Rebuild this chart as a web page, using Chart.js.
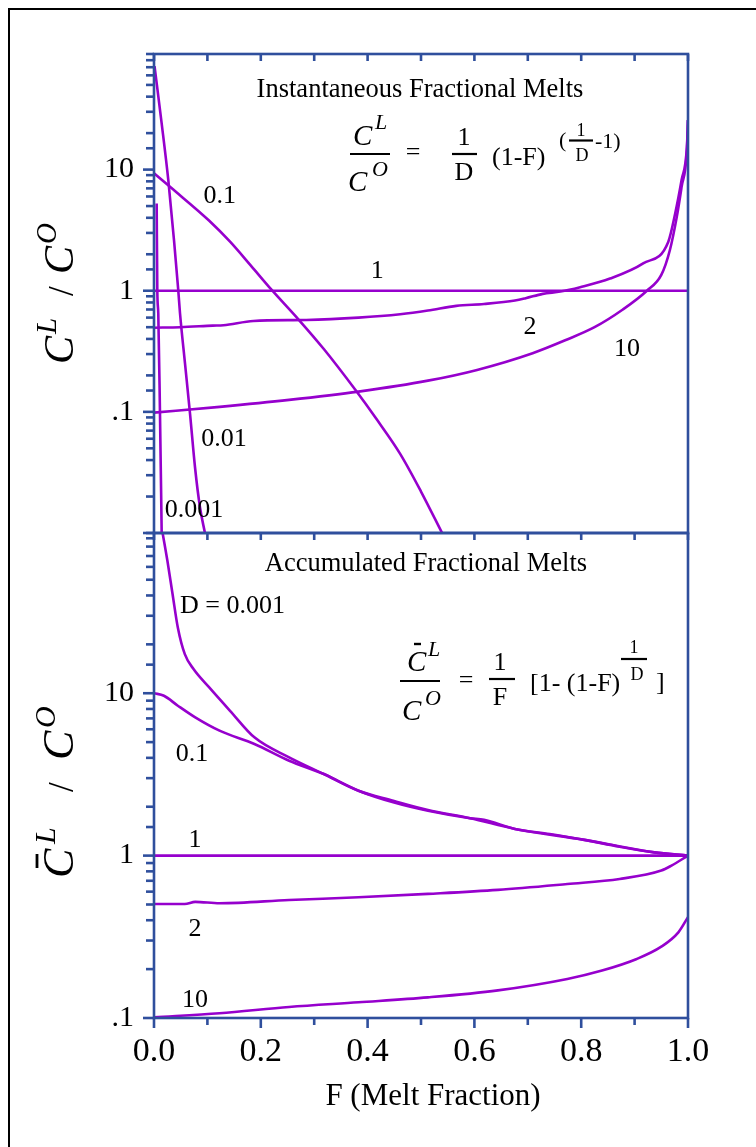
<!DOCTYPE html>
<html><head><meta charset="utf-8">
<style>
html,body{margin:0;padding:0;background:#fff;}
#wrap{position:relative;width:756px;height:1147px;overflow:hidden;background:#fff;}
canvas{position:absolute;left:0;top:0;}
</style>
<script src="https://cdn.jsdelivr.net/npm/chart.js@4/dist/chart.umd.min.js"></script>
</head><body>
<div id="wrap">
<canvas id="cBot" width="756" height="1147"></canvas>
<canvas id="cTop" width="756" height="1147"></canvas>
</div>
<script>
// ---------- DATA ----------
// Top panel: instantaneous fractional melts, C^L/C^O vs F
const instF_D0001 = [0.005, 0.0062, 0.008, 0.0112, 0.0144];
const instC_D0001 = [5.25, 1.0, 0.652, 0.0973, 0.0100];
const instF_D001 = [0.001, 0.0144, 0.0268, 0.0375, 0.0455, 0.0487, 0.058, 0.0674, 0.0768, 0.0861, 0.0955];
const instC_D001 = [71.4, 24.0, 8.17, 2.61, 1.0, 0.652, 0.252, 0.0973, 0.0349, 0.0163, 0.00995];
const instF_D01 = [0, 0.0316, 0.103, 0.142, 0.181, 0.220, 0.272, 0.318, 0.377, 0.416, 0.461, 0.500, 0.540];
const instC_D01 = [9.34, 7.11, 3.80, 2.55, 1.62, 1.02, 0.57, 0.33, 0.152, 0.088, 0.045, 0.022, 0.0099];
const instF_D1 = [0, 1];
const instC_D1 = [1, 1];
const instF_D2 = [0, 0.049, 0.110, 0.130, 0.186, 0.285, 0.383, 0.461, 0.513, 0.566, 0.618, 0.676, 0.696, 0.728, 0.761, 0.798, 0.854, 0.916, 0.963, 0.976, 0.988, 0.998, 1.0];
const instC_D2 = [0.495, 0.50, 0.515, 0.519, 0.563, 0.574, 0.600, 0.640, 0.686, 0.750, 0.778, 0.830, 0.867, 0.942, 0.984, 1.07, 1.26, 1.68, 2.53, 4.34, 8.2, 15.4, 25.6];
const instF_D10 = [0, 0.123, 0.253, 0.383, 0.513, 0.605, 0.709, 0.770, 0.825, 0.878, 0.923, 0.950, 0.966, 0.979, 0.988, 0.998, 1.0];
const instC_D10 = [0.0986, 0.110, 0.1255, 0.147, 0.181, 0.222, 0.305, 0.39, 0.50, 0.70, 1.0, 1.35, 2.16, 4.07, 7.2, 14.5, 25.6];

// Bottom panel: accumulated fractional melts
const accF_D0001 = [0.0154, 0.0251, 0.0348, 0.0446, 0.0577, 0.074, 0.103, 0.1424, 0.188, 0.253, 0.318, 0.383, 0.448, 0.513, 0.592, 0.618, 0.676, 0.741, 0.806, 0.872, 0.937, 1.0];
const accC_D0001 = [100, 65.4, 40.7, 25.4, 17.4, 14.1, 10.9, 7.8, 5.35, 4.03, 3.18, 2.51, 2.13, 1.89, 1.70, 1.66, 1.46, 1.36, 1.25, 1.135, 1.047, 1.0];
const accF_D01 = [0, 0.0186, 0.0446, 0.0772, 0.1227, 0.188, 0.253, 0.318, 0.383, 0.448, 0.513, 0.592, 0.676, 0.806, 0.937, 1.0];
const accC_D01 = [10.0, 9.65, 8.38, 7.10, 5.88, 4.87, 3.84, 3.18, 2.51, 2.18, 1.91, 1.70, 1.46, 1.25, 1.047, 1.0];
const accF_D1 = [0, 1];
const accC_D1 = [1, 1];
const accF_D2 = [0, 0.0576, 0.0772, 0.1227, 0.253, 0.383, 0.513, 0.644, 0.774, 0.872, 0.950, 0.969, 1.0];
const accC_D2 = [0.504, 0.504, 0.519, 0.509, 0.533, 0.554, 0.581, 0.615, 0.669, 0.718, 0.809, 0.868, 1.0];
const accF_D10 = [0, 0.1227, 0.253, 0.383, 0.513, 0.644, 0.774, 0.839, 0.904, 0.950, 0.982, 1.0];
const accC_D10 = [0.101, 0.107, 0.117, 0.125, 0.134, 0.148, 0.174, 0.196, 0.231, 0.275, 0.337, 0.418];

// Tick labels
const xTickLabels = ['0.0', '', '0.2', '', '0.4', '', '0.6', '', '0.8', '', '1.0'];
const yTickLabelsTop = {'10': '10', '1': '1', '0.1': '.1'};
const yTickLabelsBot = {'10': '10', '1': '1', '0.1': '.1'};
const xTitle = 'F (Melt Fraction)';

// Curve labels: text, F, value (baseline)
const topLabels = [['0.1', 0.123, 5.28], ['1', 0.418, 1.276], ['2', 0.704, 0.44], ['10', 0.886, 0.289], ['0.01', 0.131, 0.0522], ['0.001', 0.075, 0.0135]];
const botLabels = [['D = 0.001', 0.147, 31], ['0.1', 0.071, 3.84], ['1', 0.077, 1.125], ['2', 0.077, 0.318], ['10', 0.077, 0.1177]];

// ---------- STYLE ----------
const BLUE = '#2f4f9d';
const PURPLE = '#9600cd';
const SERIF = '"Liberation Serif", "Times New Roman", serif';

function pts(F, C) { return F.map((f, i) => ({x: f, y: C[i]})); }
function ds(F, C) {
  return {data: pts(F, C), borderColor: PURPLE, borderWidth: 2.6, pointRadius: 0,
          cubicInterpolationMode: 'monotone', fill: false};
}
function isPow10(v) { const l = Math.log10(v); return Math.abs(l - Math.round(l)) < 1e-6; }
function keyOf(v) { return String(Number(Math.pow(10, Math.round(Math.log10(v))).toFixed(6))); }

function font(size, italic) { return (italic ? 'italic ' : '') + size + 'px ' + SERIF; }
function t(ctx, s, x, y, size, align, italic) {
  ctx.font = font(size, italic); ctx.textAlign = align || 'left'; ctx.textBaseline = 'alphabetic';
  ctx.fillStyle = '#000'; ctx.fillText(s, x, y);
}
function hline(ctx, x1, x2, y, w) {
  ctx.beginPath(); ctx.moveTo(x1, y); ctx.lineTo(x2, y); ctx.lineWidth = w || 2; ctx.strokeStyle = '#000'; ctx.stroke();
}

function frameAndTicks(chart, bottomOut) {
  const {ctx, chartArea: a} = chart;
  const x = chart.scales.x, y = chart.scales.y;
  ctx.save();
  ctx.strokeStyle = BLUE; ctx.lineWidth = 2.6; ctx.lineCap = 'butt';
  y.ticks.forEach(tk => {
    const p = y.getPixelForValue(tk.value);
    if (p < a.top - 0.5 || p > a.bottom + 0.5) return;
    const len = isPow10(tk.value) ? 11 : 8;
    ctx.beginPath(); ctx.moveTo(a.left, p); ctx.lineTo(a.left - len, p); ctx.stroke();
  });
  for (let i = 0; i <= 10; i++) {
    const p = x.getPixelForValue(i / 10);
    ctx.beginPath(); ctx.moveTo(p, a.top); ctx.lineTo(p, a.top + 7); ctx.stroke();
    if (bottomOut) {
      const len = (i % 2 === 0) ? 10 : 7;
      ctx.beginPath(); ctx.moveTo(p, a.bottom); ctx.lineTo(p, a.bottom + len); ctx.stroke();
    }
  }
  ctx.strokeRect(a.left, a.top, a.right - a.left, a.bottom - a.top);
  ctx.restore();
}

function curveLabels(chart, list) {
  const {ctx} = chart; const x = chart.scales.x, y = chart.scales.y;
  ctx.save();
  list.forEach(([s, f, v]) => t(ctx, s, x.getPixelForValue(f), y.getPixelForValue(v), 26, 'center'));
  ctx.restore();
}

const topPlugin = {
  id: 'topDeco',
  afterDraw(chart) {
    const ctx = chart.ctx;
    frameAndTicks(chart, false);
    curveLabels(chart, topLabels);
    ctx.save();
    t(ctx, 'Instantaneous Fractional Melts', 420, 97, 26.5, 'center');
    t(ctx, 'C', 353, 145, 29, 'left', true);
    t(ctx, 'L', 375, 129, 22, 'left', true);
    hline(ctx, 350, 390, 154, 2.2);
    t(ctx, 'C', 348, 191, 29, 'left', true);
    t(ctx, 'O', 372, 176, 22, 'left', true);
    t(ctx, '=', 413, 160, 26, 'center');
    t(ctx, '1', 464, 145, 26, 'center');
    hline(ctx, 452, 477, 154, 2.2);
    t(ctx, 'D', 464, 180, 26, 'center');
    t(ctx, '(1-F)', 492, 165, 26, 'left');
    t(ctx, '(', 559, 147, 22, 'left');
    t(ctx, '1', 581, 136, 18, 'center');
    hline(ctx, 569, 593, 140.5, 2.2);
    t(ctx, 'D', 582, 161, 18, 'center');
    t(ctx, '-1)', 595, 148, 22, 'left');
    // outer black frame (left and top edges; the rest is cropped away)
    ctx.strokeStyle = '#000'; ctx.lineWidth = 2;
    ctx.beginPath(); ctx.moveTo(9, 1147); ctx.lineTo(9, 9); ctx.lineTo(756, 9); ctx.stroke();
    // y title (rotated)  C^L / C^O
    ctx.translate(73, 290); ctx.rotate(-Math.PI / 2);
    t(ctx, 'C', -74, 0, 42, 'left', true);
    t(ctx, 'L', -44, -17, 29, 'left', true);
    t(ctx, '/', -6, 0, 35, 'left', false);
    t(ctx, 'C', 16, 0, 42, 'left', true);
    t(ctx, 'O', 46, -17, 29, 'left', true);
    ctx.restore();
  }
};

const botPlugin = {
  id: 'botDeco',
  afterDraw(chart) {
    const ctx = chart.ctx;
    frameAndTicks(chart, true);
    curveLabels(chart, botLabels);
    ctx.save();
    t(ctx, 'Accumulated Fractional Melts', 426, 571, 26.5, 'center');
    t(ctx, xTitle, 433, 1105, 31, 'center');
    t(ctx, 'C', 407, 671, 29, 'left', true);
    hline(ctx, 414, 421, 644, 2.4);
    t(ctx, 'L', 428, 656, 22, 'left', true);
    hline(ctx, 400, 440, 681, 2.2);
    t(ctx, 'C', 402, 720, 29, 'left', true);
    t(ctx, 'O', 425, 705, 22, 'left', true);
    t(ctx, '=', 466, 688, 26, 'center');
    t(ctx, '1', 500, 670, 26, 'center');
    hline(ctx, 489, 515, 679, 2.2);
    t(ctx, 'F', 500, 705, 26, 'center');
    t(ctx, '[1- (1-F)', 530, 691, 26, 'left');
    t(ctx, '1', 634, 653, 18, 'center');
    hline(ctx, 621, 647, 659, 2.2);
    t(ctx, 'D', 637, 680, 18, 'center');
    t(ctx, ']', 656, 690, 26, 'left');
    // y title (rotated) C̄^L / C^O
    ctx.translate(73, 790); ctx.rotate(-Math.PI / 2);
    t(ctx, 'C', -88, 0, 44, 'left', true);
    hline(ctx, -78, -64, -36, 2.8);
    t(ctx, 'L', -54, -18, 30, 'left', true);
    t(ctx, '/', -2, 0, 35, 'left', false);
    t(ctx, 'C', 30, 0, 44, 'left', true);
    t(ctx, 'O', 62, -18, 30, 'left', true);
    ctx.restore();
  }
};

function yTickCb(map) {
  return function (v) {
    if (!isPow10(v)) return '';
    const k = keyOf(v);
    return map[k] !== undefined ? map[k] : '';
  };
}

Chart.defaults.font.family = SERIF;
Chart.defaults.color = '#000';

new Chart(document.getElementById('cTop'), {
  type: 'line',
  data: {datasets: [
    ds(instF_D0001, instC_D0001), ds(instF_D001, instC_D001), ds(instF_D01, instC_D01),
    ds(instF_D1, instC_D1), ds(instF_D2, instC_D2), ds(instF_D10, instC_D10)
  ]},
  options: {
    responsive: false, animation: false, devicePixelRatio: 1,
    layout: {padding: {left: 0, top: 54, right: 68, bottom: 614}},
    plugins: {legend: {display: false}, tooltip: {enabled: false}},
    scales: {
      x: {type: 'linear', min: 0, max: 1, display: false},
      y: {type: 'logarithmic', min: 0.01, max: 90,
          afterFit: s => { s.width = 154; },
          grid: {display: false, drawTicks: false}, border: {display: false},
          ticks: {autoSkip: false, padding: 20, font: {size: 30, family: SERIF}, color: '#000',
                  callback: yTickCb(yTickLabelsTop)}}
    }
  },
  plugins: [topPlugin]
});

new Chart(document.getElementById('cBot'), {
  type: 'line',
  data: {datasets: [
    ds(accF_D0001, accC_D0001), ds(accF_D01, accC_D01), ds(accF_D1, accC_D1),
    ds(accF_D2, accC_D2), ds(accF_D10, accC_D10)
  ]},
  options: {
    responsive: false, animation: false, devicePixelRatio: 1,
    layout: {padding: {left: 0, top: 533, right: 68, bottom: 0}},
    plugins: {legend: {display: false}, tooltip: {enabled: false}},
    scales: {
      x: {type: 'linear', min: 0, max: 1,
          afterFit: s => { s.height = 129; },
          grid: {display: false, drawTicks: false}, border: {display: false},
          ticks: {stepSize: 0.1, autoSkip: false, maxRotation: 0, padding: 14,
                  font: {size: 34, family: SERIF}, color: '#000',
                  callback: (v) => xTickLabels[Math.round(v * 10)]},
          title: {display: false}},
      y: {type: 'logarithmic', min: 0.1, max: 97,
          afterFit: s => { s.width = 154; },
          grid: {display: false, drawTicks: false}, border: {display: false},
          ticks: {autoSkip: false, padding: 20, font: {size: 30, family: SERIF}, color: '#000',
                  callback: yTickCb(yTickLabelsBot)}}
    }
  },
  plugins: [botPlugin]
});
</script>
</body></html>
